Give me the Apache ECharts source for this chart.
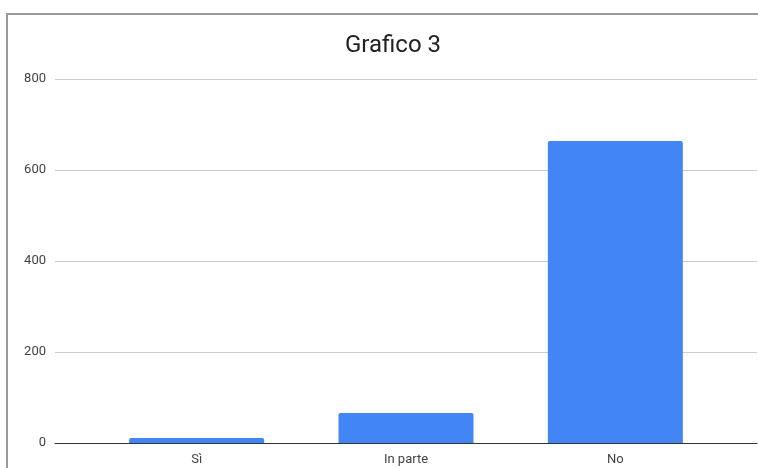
<!DOCTYPE html>
<html>
<head>
<meta charset="utf-8">
<script src="https://cdn.jsdelivr.net/npm/echarts@6/dist/echarts.min.js"></script>
<style>
  html, body { margin: 0; padding: 0; background: #fff; }
  #chart { width: 758px; height: 468px; }
</style>
</head>
<body>
<div id="chart"></div>
<script>
const categories = ['Sì', 'In parte', 'No'];
const values = [11, 66, 664];
const yTicks = [0, 200, 400, 600, 800];

const chart = echarts.init(document.getElementById('chart'));

const option = {
  animation: false,
  textStyle: { fontFamily: 'Roboto' },
  title: {
    text: 'Grafico 3',
    left: 388,
    top: 29,
    textAlign: 'center',
    textStyle: { fontSize: 24, fontWeight: 'normal', color: '#222', fontFamily: 'Roboto' }
  },
  graphic: [{
    type: 'rect',
    shape: { x: 7, y: 14, width: 800, height: 500 },
    style: { fill: 'none', stroke: '#9a9a9a', lineWidth: 2 },
    silent: true
  }],
  grid: [
    { left: 55, right: 1, top: 79, bottom: 25 },
    { left: 92, right: 38, top: 79, bottom: 25 }
  ],
  xAxis: [
    {
      gridIndex: 0,
      type: 'category',
      data: categories,
      axisLine: { lineStyle: { color: '#333', width: 1 } },
      axisTick: { show: false },
      axisLabel: { show: false }
    },
    {
      gridIndex: 1,
      type: 'category',
      data: categories,
      axisLine: { show: false },
      axisTick: { show: false },
      axisLabel: { color: '#444', fontSize: 13, margin: 10 }
    }
  ],
  yAxis: [
    {
      gridIndex: 0,
      type: 'value',
      min: yTicks[0],
      max: yTicks[yTicks.length - 1],
      interval: 200,
      axisLine: { show: false },
      axisTick: { show: false },
      axisLabel: { color: '#444', fontSize: 13, margin: 9 },
      splitLine: { lineStyle: { color: '#ccc' } }
    },
    {
      gridIndex: 1,
      type: 'value',
      min: yTicks[0],
      max: yTicks[yTicks.length - 1],
      show: false,
      splitLine: { show: false }
    }
  ],
  series: [{
    type: 'bar',
    xAxisIndex: 1,
    yAxisIndex: 1,
    data: values,
    barWidth: 135,
    itemStyle: { color: '#4285f4', borderRadius: [2, 2, 0, 0] }
  }]
};

chart.setOption(option);
</script>
</body>
</html>
